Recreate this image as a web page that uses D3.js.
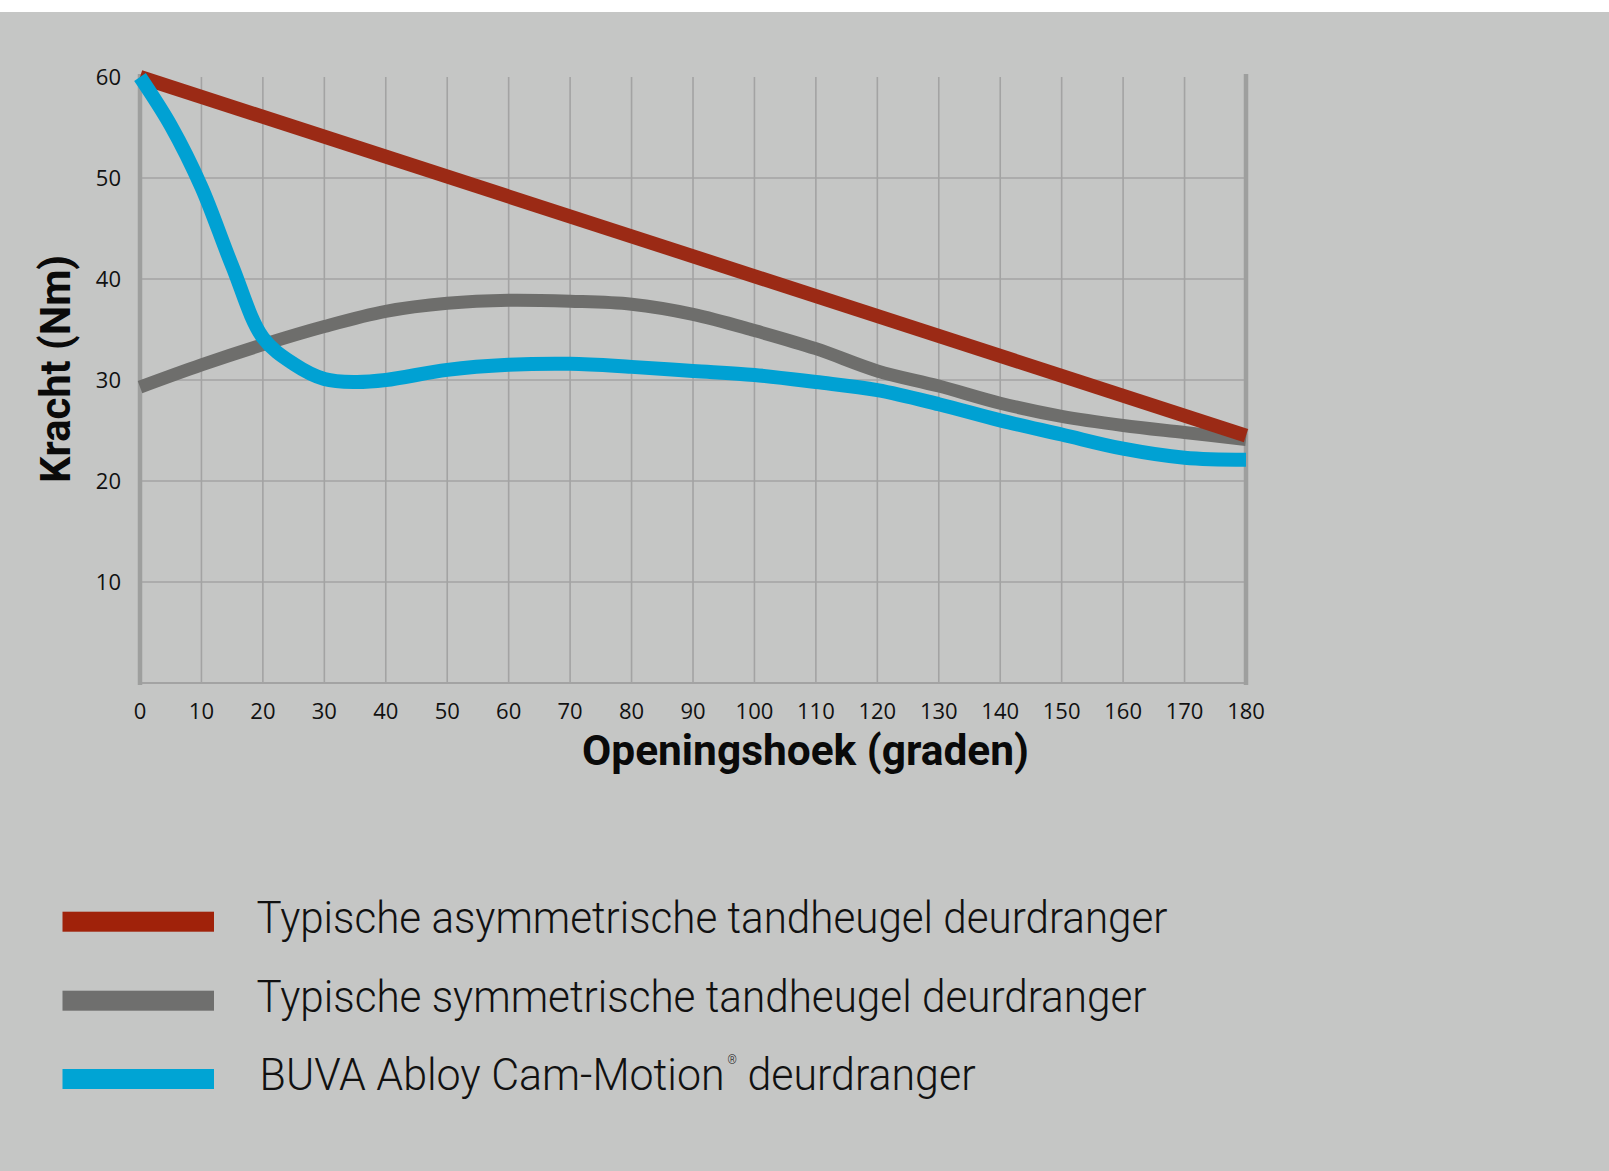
<!doctype html>
<html>
<head>
    <script src="https://d3js.org/d3.v7.min.js"></script>
    <style>
        body { margin: 0; background: #ffffff; }
        svg { display: block; }
    </style>
</head>
<body>

    <svg width="1609" height="1171"></svg>

    <script>
        // hoek (graden) en kracht (Nm)
        var xTicks = [0, 10, 20, 30, 40, 50, 60, 70, 80, 90, 100, 110, 120, 130, 140, 150, 160, 170, 180];
        var yTicks = [10, 20, 30, 40, 50, 60];

        var asymAngles = [0, 180];
        var asymValues = [60, 24.5];

        var symAngles = [0, 10, 20, 30, 40, 50, 60, 70, 80, 90, 100, 110, 120, 130, 140, 150, 160, 170, 180];
        var symValues = [29.3, 31.5, 33.5, 35.3, 36.8, 37.6, 37.9, 37.8, 37.5, 36.5, 34.9, 33.1, 30.9, 29.4, 27.7, 26.4, 25.5, 24.8, 24.1];

        var camAngles = [0, 5, 10, 15, 20, 25, 30, 35, 40, 50, 60, 70, 80, 90, 100, 110, 120, 130, 140, 150, 160, 170, 180];
        var camValues = [60, 55.2, 49.1, 41.3, 34.2, 31.6, 30.1, 29.8, 30.0, 31.0, 31.5, 31.6, 31.3, 30.9, 30.5, 29.8, 29.0, 27.6, 26.0, 24.6, 23.2, 22.3, 22.1];

        var legendLabels = [
            "Typische asymmetrische tandheugel deurdranger",
            "Typische symmetrische tandheugel deurdranger",
            "BUVA Abloy Cam-Motion"
        ];
        var colors = ["#9b2a15", "#6e6e6c", "#00a1d3"];
        var swatchColors = ["#a0220a", "#6f6f6e", "#00a4d4"];

        var svg = d3.select("svg");

        svg.append("rect")
            .attr("x", 0).attr("y", 12)
            .attr("width", 1609).attr("height", 1171 - 12)
            .attr("fill", "#c5c6c5");

        var x = d3.scaleLinear().domain([0, 180]).range([140, 1246]);
        var y = d3.scaleLinear().domain([0, 60]).range([683, 77]);

        var grid = svg.append("g").attr("stroke", "#a3a3a3").attr("stroke-width", 1.6);

        // vertical grid
        grid.selectAll("line.v")
            .data(xTicks.filter(d => d > 0 && d < 180))
            .enter().append("line")
            .attr("x1", d => x(d)).attr("x2", d => x(d))
            .attr("y1", y(60)).attr("y2", y(0));

        // horizontal grid
        grid.selectAll("line.h")
            .data(yTicks.filter(d => d < 60))
            .enter().append("line")
            .attr("x1", x(0)).attr("x2", x(180))
            .attr("y1", d => y(d)).attr("y2", d => y(d));

        // axis frame
        svg.append("line")
            .attr("x1", x(0)).attr("x2", x(180))
            .attr("y1", y(0)).attr("y2", y(0))
            .attr("stroke", "#a3a3a3").attr("stroke-width", 2.2);
        svg.append("line")
            .attr("x1", x(0)).attr("x2", x(0))
            .attr("y1", y(60) - 3).attr("y2", y(0) + 2)
            .attr("stroke", "#9e9f9e").attr("stroke-width", 4.5);
        svg.append("line")
            .attr("x1", x(180)).attr("x2", x(180))
            .attr("y1", y(60) - 3).attr("y2", y(0) + 2)
            .attr("stroke", "#9e9f9e").attr("stroke-width", 4.5);

        // tick labels
        svg.append("g").selectAll("text")
            .data(xTicks)
            .enter().append("text")
            .attr("x", d => x(d))
            .attr("y", 719)
            .attr("text-anchor", "middle")
            .style("font-family", "'Open Sans', sans-serif")
            .style("font-size", "22px")
            .attr("fill", "#111")
            .text(d => d);

        svg.append("g").selectAll("text")
            .data(yTicks)
            .enter().append("text")
            .attr("x", 121)
            .attr("y", d => y(d) + 8)
            .attr("text-anchor", "end")
            .style("font-family", "'Open Sans', sans-serif")
            .style("font-size", "22px")
            .attr("fill", "#111")
            .text(d => d);

        // axis titles
        svg.append("text")
            .attr("x", 582)
            .attr("y", 765)
            .attr("textLength", 447)
            .attr("lengthAdjust", "spacingAndGlyphs")
            .style("font-family", "Roboto, sans-serif")
            .style("font-weight", "700")
            .style("font-size", "42px")
            .attr("fill", "#0a0a0a")
            .text("Openingshoek (graden)");

        svg.append("text")
            .attr("transform", "translate(70,483) rotate(-90)")
            .attr("textLength", 228)
            .attr("lengthAdjust", "spacingAndGlyphs")
            .style("font-family", "Roboto, sans-serif")
            .style("font-weight", "700")
            .style("font-size", "43px")
            .attr("fill", "#0a0a0a")
            .text("Kracht (Nm)");

        // lines
        var smooth = d3.line()
            .x(d => x(d[0]))
            .y(d => y(d[1]))
            .curve(d3.curveCatmullRom.alpha(0.5));

        var straight = d3.line()
            .x(d => x(d[0]))
            .y(d => y(d[1]));

        var series = [
            {pts: d3.zip(symAngles, symValues), gen: smooth, color: colors[1], w: 13},
            {pts: d3.zip(asymAngles, asymValues), gen: straight, color: colors[0], w: 14},
            {pts: d3.zip(camAngles, camValues), gen: smooth, color: colors[2], w: 14}
        ];

        svg.append("g").selectAll("path")
            .data(series)
            .enter().append("path")
            .attr("d", d => d.gen(d.pts))
            .attr("fill", "none")
            .attr("stroke", d => d.color)
            .attr("stroke-width", d => d.w)
            .attr("stroke-linejoin", "round");

        // legend
        var legendY = [921.7, 1000.7, 1079];
        var legendBase = [933, 1011.5, 1090];
        var legendWidth = [911, 890, 716];

        var legend = svg.append("g");
        legend.selectAll("rect")
            .data(legendLabels)
            .enter().append("rect")
            .attr("x", 62.5)
            .attr("y", (d, i) => legendY[i] - 10)
            .attr("width", 151.5)
            .attr("height", 20)
            .attr("fill", (d, i) => swatchColors[i]);

        var items = legend.selectAll("text")
            .data(legendLabels)
            .enter().append("text")
            .attr("x", (d, i) => i == 2 ? 259.6 : 256.5)
            .attr("y", (d, i) => legendBase[i])
            .attr("textLength", (d, i) => legendWidth[i])
            .attr("lengthAdjust", "spacingAndGlyphs")
            .style("font-family", "Roboto, sans-serif")
            .style("font-weight", "300")
            .style("font-size", "44px")
            .attr("fill", "#111");

        items.append("tspan").text(d => d);

        // registered mark + rest of the third label
        var third = items.filter((d, i) => i == 2);
        third.append("tspan")
            .attr("dy", -26)
            .attr("dx", 3)
            .style("font-size", "12px")
            .text("®");
        third.append("tspan")
            .attr("dy", 26)
            .text(" deurdranger");
    </script>
</body>
</html>
